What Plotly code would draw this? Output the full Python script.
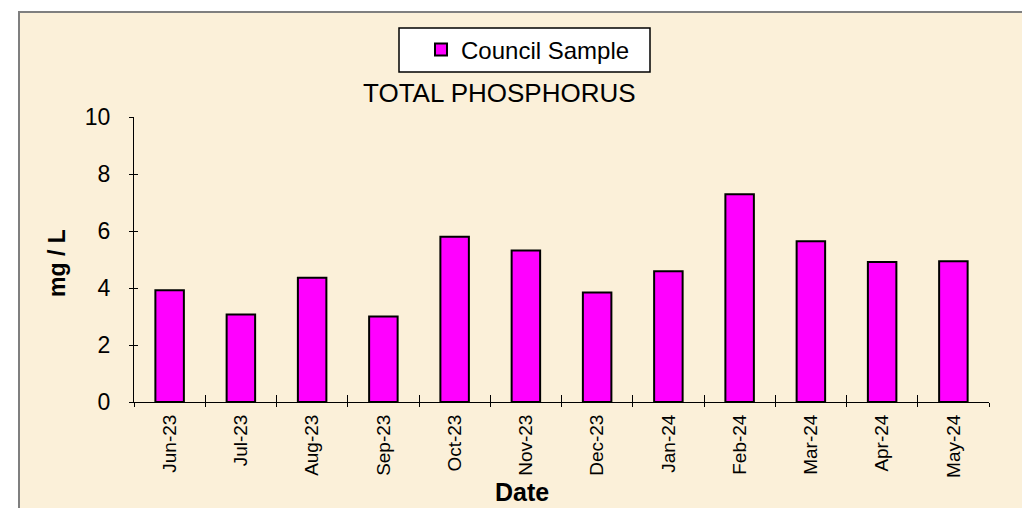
import plotly.graph_objects as go

categories = ["Jun-23", "Jul-23", "Aug-23", "Sep-23", "Oct-23", "Nov-23",
              "Dec-23", "Jan-24", "Feb-24", "Mar-24", "Apr-24", "May-24"]
council_sample = [3.92, 3.07, 4.36, 3.0, 5.80, 5.32, 3.84, 4.59, 7.29, 5.64, 4.91, 4.94]
y_ticks = [0, 2, 4, 6, 8, 10]

FONT = "Liberation Sans, Arial, sans-serif"
PARCH = "#FBF0D9"

# the page body adds an 8px offset; work in screen pixels and convert
OFF = 8
FW, FH = 1030 - OFF, 508 - OFF
# plot area in screen pixels: x 134..989, y 117..402
L, R, T, B = 134, 989, 117, 402
W, H = R - L, B - T
def px(x):
    return (x - L) / W
def py(y):
    return (B - y) / H

fig = go.Figure()
fig.add_trace(go.Bar(
    x=categories, y=council_sample, name="Council Sample",
    marker=dict(color="#FF00FF", line=dict(color="black", width=2)),
))
# helper trace for the crossing tick marks (inner halves)
fig.add_trace(go.Scatter(
    x=categories, y=council_sample, xaxis="x2", yaxis="y2",
    mode="markers", marker=dict(opacity=0), showlegend=False, hoverinfo="skip",
))

fig.update_layout(
    width=FW, height=FH,
    margin=dict(l=L - OFF, r=FW - (R - OFF), t=T - OFF, b=FH - (B - OFF),
                autoexpand=False),
    paper_bgcolor="white",
    plot_bgcolor="rgba(0,0,0,0)",
    font=dict(family=FONT, color="black"),
    bargap=0.6,
    showlegend=True,
    legend=dict(
        x=px(421), y=py(50), xanchor="left", yanchor="middle",
        bgcolor="rgba(0,0,0,0)", borderwidth=0,
        font=dict(size=24, family=FONT), itemwidth=30,
    ),
    xaxis=dict(
        type="category", categoryorder="array", categoryarray=categories,
        range=[-0.5, 11.5], showline=True, linecolor="black", linewidth=1,
        ticks="outside", ticklen=4, tickcolor="black", tickson="boundaries",
        tickangle=-90, tickfont=dict(size=19, family=FONT),
        ticklabelstandoff=4, showgrid=False, zeroline=False,
    ),
    yaxis=dict(
        range=[0, 10], tickvals=y_ticks, showline=True, linecolor="black",
        linewidth=1, ticks="outside", ticklen=4, tickcolor="black",
        tickfont=dict(size=23, family=FONT), ticklabelstandoff=14,
        showgrid=False, zeroline=False,
    ),
    xaxis2=dict(
        type="category", categoryorder="array", categoryarray=categories,
        range=[-0.5, 11.5], overlaying="x", anchor="y2", side="bottom",
        ticks="inside", ticklen=7, tickcolor="black", tickson="boundaries",
        showticklabels=False, showgrid=False, zeroline=False, showline=False,
    ),
    yaxis2=dict(
        range=[0, 10], tickvals=y_ticks, overlaying="y", anchor="x2", side="left",
        ticks="inside", ticklen=4, tickcolor="black",
        showticklabels=False, showgrid=False, zeroline=False, showline=False,
    ),
    shapes=[
        dict(type="rect", xref="paper", yref="paper", layer="below",
             x0=px(19), x1=px(1023), y0=py(530), y1=py(12),
             fillcolor=PARCH, line=dict(color="#7F7F7F", width=2)),
        dict(type="rect", xref="paper", yref="paper", layer="above",
             x0=px(399), x1=px(650), y0=py(72), y1=py(28),
             fillcolor="white", line=dict(color="black", width=1.5)),
    ],
    annotations=[
        dict(text="TOTAL PHOSPHORUS", xref="paper", yref="paper",
             x=px(499), y=py(93), xanchor="center", yanchor="middle",
             showarrow=False, font=dict(size=26, family=FONT)),
        dict(text="<b>mg / L</b>", xref="paper", yref="paper",
             x=px(57), y=py(263), xanchor="center", yanchor="middle",
             showarrow=False, textangle=-90,
             font=dict(size=23, family=FONT)),
        dict(text="<b>Date</b>", xref="paper", yref="paper",
             x=px(522), y=py(492), xanchor="center", yanchor="middle",
             showarrow=False, font=dict(size=25, family=FONT)),
    ],
)

fig.write_html("out.html")
